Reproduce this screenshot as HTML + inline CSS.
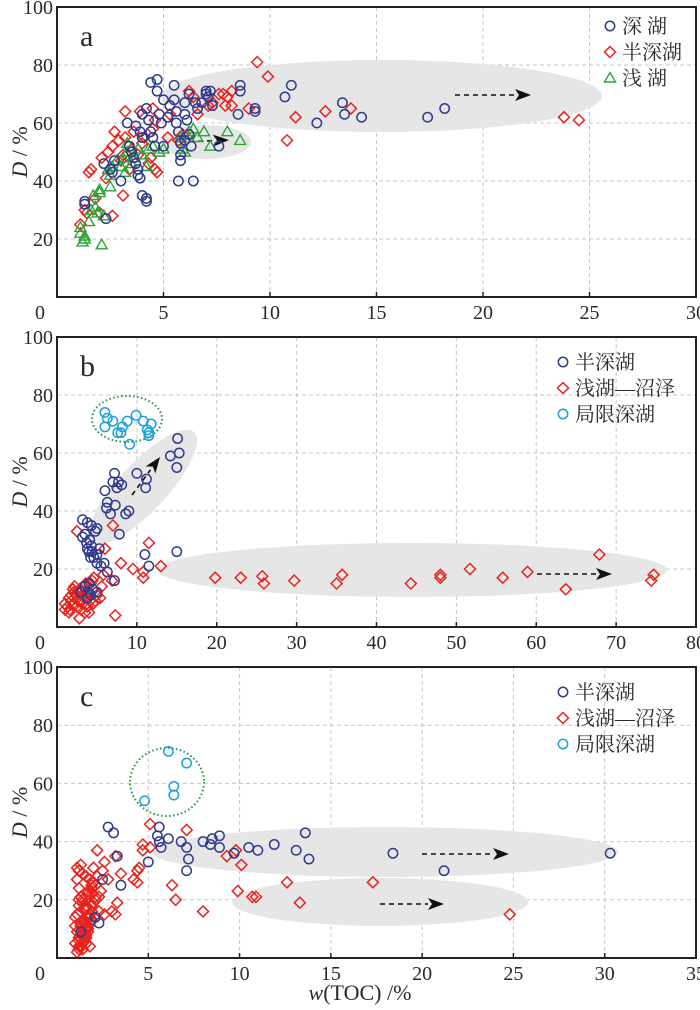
<!DOCTYPE html>
<html><head><meta charset="utf-8">
<style>
html,body{margin:0;padding:0;background:#fff;}
svg{display:block;}
text{font-family:"Liberation Serif","Noto Serif CJK SC",serif;fill:#2a2a2a;}
.cjk{font-family:"Liberation Serif","Noto Serif CJK SC","Noto Sans CJK SC",serif;}
</style></head>
<body>
<svg id="chart" width="700" height="1010" viewBox="0 0 700 1010" xmlns="http://www.w3.org/2000/svg"></svg>
<script>
// ---------- Panel a data ----------
const aXTicks=[5,10,15,20,25,30];
const aYTicks=[20,40,60,80,100];
const aDeepX=[1.3,1.3,2.3,2.2,2.5,2.7,2.6,3,3.3,3.4,3.5,3.6,3.7,3.8,3.7,3.9,4,4,3.8,3.9,4,4.2,4.2,4.2,4.3,4.4,4.5,4.6,4.4,4.7,4.7,4.8,4.9,5,5,5.2,5.3,5.5,5.5,5.6,5.6,5.7,5.8,5.8,5.8,5.7,6,6,6.1,6.2,6.2,6.3,6.4,6.5,6.6,6.8,7,7,7.2,7.1,7.3,8.6,8.6,8.5,9.3,9.3,10.7,11,12.2,13.4,13.5,14.3,17.4,18.2,7.6,6];
const aDeepY=[33,32,27,46,44,47,43,40,60,52,50,48,46,44,59,57,63,55,42,41,35,34,33,65,61,57,55,52,74,75,71,63,60,68,52,62,66,73,68,64,60,57,53,49,47,40,67,63,61,70,56,52,40,67,65,67,71,70,71,69,66,73,71,63,65,64,69,73,60,67,63,62,62,65,52,54];
const aSemiX=[1.1,1.3,1.4,1.5,1.6,1.8,2,2.1,2.3,2.4,2.6,2.6,2.7,2.9,3,3.1,3.1,3.2,3.2,3.5,3.6,3.8,3.9,4,4.1,4.3,4.4,4.5,4.6,4.7,4.6,5.2,5.3,5.7,5.9,6.2,6.4,6.6,7.1,7.3,7.6,7.8,8,8.2,7.9,8.2,9,9.4,9.9,10.8,11.2,12.6,13.8,23.8,24.5,4.5,3.4];
const aSemiY=[25,30,29,43,44,34,29,48,41,50,28,52,57,54,47,49,35,55,64,51,57,49,64,53,55,46,48,65,44,43,61,55,63,54,56,71,69,63,66,67,70,70,69,71,66,66,65,81,76,54,62,64,65,62,61,58,44];
const aShallowX=[1.1,1.1,1.2,1.3,1.3,1.5,1.6,1.7,1.8,1.9,2,2,2.1,2.2,2.4,2.5,2.5,2.6,2.8,3,3.1,3.2,3.3,3.3,3.5,3.6,3.8,4,4.2,4.3,4.5,4.8,5,5.8,6.1,6.2,6.4,6.6,6.9,7.2,8,8.6,5.9,6];
const aShallowY=[24,22,19,20,21,26,30,35,31,29,37,36,18,28,44,38,42,45,47,45,48,43,50,53,46,48,51,49,45,51,52,50,51,55,56,57,58,55,57,52,57,54,51,50];

// ---------- Panel b data ----------
const bXTicks=[10,20,30,40,50,60,70,80];
const bYTicks=[20,40,60,80,100];
const bSemiX=[6,6.2,6.3,6.7,7,7.2,7.3,7.5,7.7,8.1,8.6,9,10,11.2,11.1,14.2,15,15.1,15.3,3.2,3.8,4.3,4.8,5,3.5,3.2,3.7,4.1,4.3,3.8,4,4.4,4.2,4.6,5,5.3,5,5.5,5.9,6.3,7.2,7.8,11,11.5,15,3.5,4,4.5,4.2,5,3,3.8];
const bSemiY=[47,41,43,39,50,53,42,48,50,49,39,40,53,51,48,59,55,65,60,37,36,35,33,34,32,31,29,30,28,27,26,26,24,24,25,27,22,21,22,19,16,32,25,21,26,14,15,13,11,12,12,10];
const bMarshX=[2.5,7,6,6.9,8,9.5,10.8,10.8,11.5,13,7.3,2.8,3.5,1,1.3,1.5,1.8,2,2.2,2.4,2.6,2.8,3,3.2,3.3,3.5,3.8,4,4.2,4.4,4.6,4.8,5,5.4,5.6,5.8,2,2.5,3,1.8,4,2.2,3.7,4.5,1.5,1,2.7,3.1,3.6,4.1,1.6,2.1,19.8,23,25.7,25.9,29.7,35,35.7,44.3,48,48,51.7,55.8,58.9,63.7,67.9,74.4,74.7];
const bMarshY=[33,35,27,16,22,20,19,17,29,21,4,3,5,6,7,5,9,8,10,11,12,13,9,8,14,10,7,12,15,16,17,9,11,10,14,18,13,7,6,11,5,14,12,8,10,8,9,11,15,9,6,12,17,17,17.5,15,16,15,18,15,17,18,20,17,19,13,25,16,18];
const bRestX=[6,6.3,6,7,7.6,8.2,8,8.8,9.1,9.9,10.8,11.3,11.5,11.5,11.8];
const bRestY=[74,72,69,71,67,69,67,71,63,73,71,68,67,66,70];

// ---------- Panel c data ----------
const cXTicks=[5,10,15,20,25,30,35];
const cYTicks=[20,40,60,80,100];
const cSemiX=[1.3,2.1,2.3,2.5,2.8,3.1,3.3,3.5,5,5.6,5.5,5.6,5.7,6.1,6.8,7.1,7.2,7.1,8,8.5,8.4,8.9,8.9,9.7,10.5,11,11.9,13.1,13.6,13.8,18.4,21.2,30.3];
const cSemiY=[9,14,12,27,45,43,35,25,33,45,42,40,38,41,40,38,34,30,40,41,39,42,38,36,38,37,39,37,43,34,36,30,36];
const cMarshX=[4.2,4.4,4.5,4.7,4.7,5.1,5.1,6.3,6.5,7.1,8,9.3,9.8,10.1,9.9,10.7,10.9,12.6,13.3,17.3,24.8,3,3.2,3.3,3.5,3.2,2.8,2.6,2.5,2.3,2.2,2,2.4,2.6,4.4,1.1,1.2,1.3,1.4,1.5,1.2,1.3,1.4,1.6,1.7,1.8,1.9,1.0,1.1,1.3,1.5,1.6,1.4,1.2,1.3,1.5,1.7,1.9,2.1,2.0,1.8,1.6,1.4,1.2,1.1,1.3,1.5,1.7,1.9,2.1,2.3,1.0,1.2,1.4,1.6,1.8,1.3,1.5,1.2,1.4,1.6,1.1,1.3,1.5,1.7,1.9,2.2,1.4,1.6,1.2,1.3,1.4,1.5,1.6,1.7,1.8,1.9,2.0,2.1,1.2,1.4,1.6,1.8,1.5,1.3,1.7,1.9,1.1,1.0];
const cMarshY=[27,30,31,39,37,46,38,25,20,44,16,35,37,32,23,21,21,26,19,26,15,16,15,19,29,35,27,33,30,21,37,31,23,15,26,2,3,4,5,6,7,8,9,10,11,12,13,14,15,16,17,18,19,20,21,22,23,24,25,26,27,28,29,30,31,32,10,14,18,20,16,5,6,8,12,15,11,13,4,3,7,9,11,9,22,25,28,20,17,24,12,13,10,8,9,14,16,19,21,18,3,5,4,7,12,10,22,27,11,4];
const cRestX=[4.8,6.1,7.1,6.4,6.4];
const cRestY=[54,71,67,59,56];

const NS="http://www.w3.org/2000/svg";
const svg=document.getElementById('chart');
const C={deep:'#2e3a8c',red:'#e8231e',green:'#2ca33a',cyan:'#1a9fdc'};
function mk(tag,attrs,parent){const e=document.createElementNS(NS,tag);for(const k in attrs)e.setAttribute(k,attrs[k]);(parent||svg).appendChild(e);return e;}

const L=57,R=696;
function panel(id,top,bottom,xmax,xticks,yticks,letter){
  const g=mk('g',{});
  
  
  const sx=v=>L+v/xmax*(R-L);
  const sy=v=>bottom-v/100*(bottom-top);
  return {g,sx,sy,top,bottom,xticks,yticks,letter,id};
}
function grid(p){
  p.xticks.forEach(t=>{ if(t<p.xticks[p.xticks.length-1]){const l=mk('line',{x1:p.sx(t),x2:p.sx(t),y1:p.top,y2:p.bottom,stroke:'#c6c6c6','stroke-width':1,'stroke-dasharray':'4,3'},p.g);
    
    }});
  p.yticks.forEach(t=>{ if(t<100){const l=mk('line',{x1:L,x2:R,y1:p.sy(t),y2:p.sy(t),stroke:'#c6c6c6','stroke-width':1,'stroke-dasharray':'4,3'},p.g);
    
    }});
}
function frame(p){
  const r=mk('rect',{x:L,y:p.top,width:R-L,height:p.bottom-p.top,fill:'none',stroke:'#222','stroke-width':2},p.g);
  
  
  p.xticks.forEach(t=>{const x=p.sx(t);
    mk('line',{x1:x,x2:x,y1:p.bottom,y2:p.bottom-5,stroke:'#222','stroke-width':1.5},p.g);
    const tx=mk('text',{x:x,y:p.bottom+22,'text-anchor':'middle','font-size':20},p.g);tx.textContent=t;
    
    });
  p.yticks.forEach(t=>{const y=p.sy(t);
    const tx=mk('text',{x:L-4,y:y+7,'text-anchor':'end','font-size':20},p.g);tx.textContent=t;
    
    });
  const z=mk('text',{x:40,y:p.bottom+22,'text-anchor':'middle','font-size':20},p.g);z.textContent='0';
  
  
  const lt=mk('text',{x:80,y:p.top+39,'font-size':30},p.g);lt.textContent=p.letter;
  
  
  const yt=mk('text',{transform:`translate(27,${(p.top+p.bottom)/2}) rotate(-90)`,'text-anchor':'middle','font-size':22},p.g);
  yt.innerHTML='<tspan font-style="italic">D</tspan> / %';
  
  
}
function ell(p,cx,cy,rx,ry,rot,name){const e=mk('ellipse',{cx,cy,rx,ry,fill:'#e6e6e6',transform:`rotate(${rot||0} ${cx} ${cy})`},p.g);
  
  }
function dotted(p,cx,cy,rx,ry){const e=mk('ellipse',{cx,cy,rx,ry,fill:'none',stroke:'#1e9a3a','stroke-width':2,'stroke-dasharray':'1.5,2.5'},p.g);
  
  }
function arrow(p,x1,y1,x2,y2){
  const dx=x2-x1,dy=y2-y1,len=Math.hypot(dx,dy),ux=dx/len,uy=dy/len;
  const bx=x2-ux*16,by=y2-uy*16;
  const l=mk('line',{x1,y1,x2:bx,y2:by,stroke:'#111','stroke-width':1.6,'stroke-dasharray':'5,4'},p.g);
  
  
  const px=-uy,py=ux;
  const h=mk('polygon',{points:`${x2},${y2} ${bx+px*6},${by+py*6} ${bx+ux*4},${by+uy*4} ${bx-px*6},${by-py*6}`,fill:'#111'},p.g);
  
  
}
function marker(p,type,color,x,y,name){
  let e;
  if(type==='c') e=mk('circle',{cx:x,cy:y,r:4.7,fill:'none',stroke:color,'stroke-width':1.5},p.g);
  else if(type==='d') e=mk('polygon',{points:`${x},${y-5.5} ${x+5.5},${y} ${x},${y+5.5} ${x-5.5},${y}`,fill:'none',stroke:color,'stroke-width':1.5},p.g);
  else e=mk('polygon',{points:`${x},${y-5.5} ${x+5.5},${y+4} ${x-5.5},${y+4}`,fill:'none',stroke:color,'stroke-width':1.4},p.g);
  
  
  return e;
}
function series(p,xs,ys,type,color,name){xs.forEach((v,i)=>marker(p,type,color,p.sx(v),p.sy(ys[i]),name));}
function legend(p,items,y0){
  items.forEach((it,i)=>{const y=y0+i*26;
    marker(p,it[0],it[1],563+(p.id==='a'?47:0),y,'legend-marker');
    const t=mk('text',{x:575+(p.id==='a'?47:0),y:y+7,'font-size':20,class:'cjk'},p.g);t.textContent=it[2];
    
    });
}

// Panel a
const pa=panel('a',7,297,30,aXTicks,aYTicks,'a');
grid(pa);
ell(pa,382,96,220,36,0,'deep-lake-zone');
ell(pa,206,142,45,17,0,'shallow-lake-zone');
arrow(pa,180,142,229,140);
arrow(pa,455,95,531,95);
series(pa,aSemiX,aSemiY,'d',C.red,'semi-deep-lake-point');
series(pa,aShallowX,aShallowY,'t',C.green,'shallow-lake-point');
series(pa,aDeepX,aDeepY,'c',C.deep,'deep-lake-point');
frame(pa);
legend(pa,[['c',C.deep,'深  湖'],['d',C.red,'半深湖'],['t',C.green,'浅  湖']],26);

// Panel b
const pb=panel('b',337,627,80,bXTicks,bYTicks,'b');
grid(pb);
ell(pb,412,570,255,27,0,'marsh-zone');
ell(pb,143,487,75,24,-47,'semi-deep-zone');
dotted(pb,127,419,35,23);
arrow(pb,132,495,160,457);
arrow(pb,537,574,612,574);
series(pb,bMarshX,bMarshY,'d',C.red,'marsh-point');
series(pb,bSemiX,bSemiY,'c',C.deep,'semi-deep-lake-point');
series(pb,bRestX,bRestY,'c',C.cyan,'restricted-lake-point');
frame(pb);
legend(pb,[['c',C.deep,'半深湖'],['d',C.red,'浅湖—沼泽'],['c',C.cyan,'局限深湖']],362);

// Panel c
const pc=panel('c',667,958,35,cXTicks,cYTicks,'c');
grid(pc);
ell(pc,385,852,233,25,0,'semi-deep-zone');
ell(pc,380,902,148,24,0,'marsh-zone');
dotted(pc,167,782,37,34);
arrow(pc,422,854,509,854);
arrow(pc,380,904,444,904);
series(pc,cMarshX,cMarshY,'d',C.red,'marsh-point');
series(pc,cSemiX,cSemiY,'c',C.deep,'semi-deep-lake-point');
series(pc,cRestX,cRestY,'c',C.cyan,'restricted-lake-point');
frame(pc);
legend(pc,[['c',C.deep,'半深湖'],['d',C.red,'浅湖—沼泽'],['c',C.cyan,'局限深湖']],692);

const xt=mk('text',{x:360,y:1000,'text-anchor':'middle','font-size':22});
xt.innerHTML='<tspan font-style="italic">w</tspan>(TOC) /%';


</script>
</body></html>
